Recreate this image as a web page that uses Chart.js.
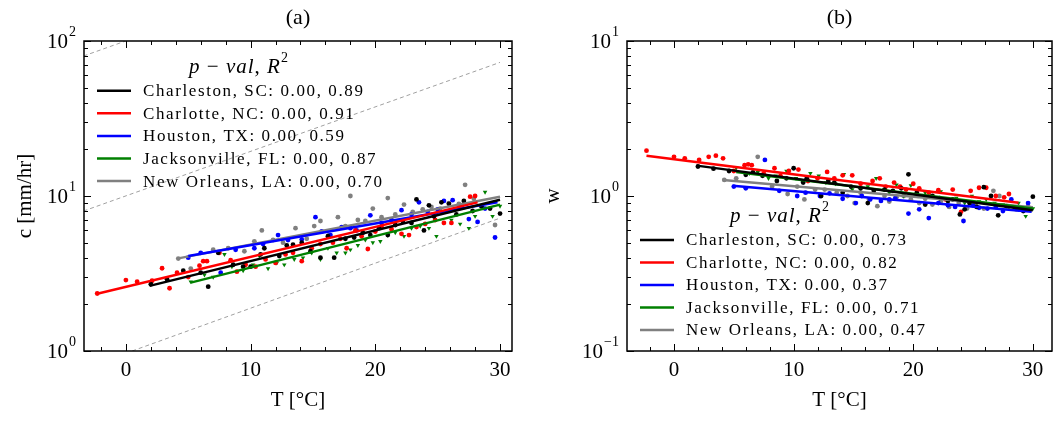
<!DOCTYPE html>
<html>
<head>
<meta charset="utf-8">
<script src="https://cdn.jsdelivr.net/npm/chart.js@4.4.0/dist/chart.umd.min.js"></script>
<style>
  html, body { margin: 0; padding: 0; background: #fff; }
  #wrap { position: relative; width: 1064px; height: 422px; }
  canvas { position: absolute; top: 0; }
</style>
</head>
<body>
<div id="wrap">
  <canvas id="chartA" width="532" height="422" style="left:0"></canvas>
  <canvas id="chartB" width="532" height="422" style="left:532px"></canvas>
</div>
<script>
// ---- data ----
const cities = ["Charleston, SC", "Charlotte, NC", "Houston, TX", "Jacksonville, FL", "New Orleans, LA"];
const statsA = ["0.00, 0.89", "0.00, 0.91", "0.00, 0.59", "0.00, 0.87", "0.00, 0.70"];
const statsB = ["0.00, 0.73", "0.00, 0.82", "0.00, 0.37", "0.00, 0.71", "0.00, 0.47"];

const tCharleston = [2.0, 3.3, 4.6, 6.0, 6.6, 7.4, 8.6, 9.4, 10.0, 10.8, 11.1, 12.3, 12.9, 13.4, 14.1, 14.8, 15.6, 16.2, 16.7, 17.6,
  18.3, 19.0, 19.6, 20.3, 21.0, 21.6, 22.2, 22.9, 23.3, 23.9, 24.3, 24.7, 25.3, 25.9, 26.5, 27.1, 27.8, 28.5, 29.2, 30.0];
const cCharleston = [2.7, 2.9, 3.3, 3.2, 2.6, 4.3, 3.6, 3.5, 3.5, 4.2, 4.6, 4.1, 4.8, 4.85, 5.0, 4.4, 4.0, 5.5, 4.0, 5.3,
  5.4, 5.8, 5.6, 6.2, 5.6, 6.5, 6.9, 6.7, 9.5, 6.0, 8.7, 7.4, 9.1, 8.9, 7.6, 9.3, 8.0, 8.6, 8.3, 7.7];
const wCharleston = [1.55, 1.5, 1.45, 1.37, 1.42, 1.35, 1.25, 1.3, 1.51, 1.22, 1.3, 1.0, 1.25, 1.22, 1.05, 1.15, 1.12, 0.9, 1.08, 1.1,
  1.08, 1.12, 1.38, 1.05, 0.88, 1.0, 0.97, 0.93, 0.95, 0.76, 0.82, 0.9, 0.85, 1.14, 1.0, 0.75, 0.86, 0.84, 0.8, 0.99];

const tCharlotte = [-2.3, 0.0, 0.9, 2.1, 2.9, 3.5, 4.1, 5.0, 5.9, 6.2, 6.5, 7.5, 8.4, 8.9, 9.6, 10.4, 11.2, 12.0, 12.8, 13.4,
  14.1, 14.9, 15.6, 16.6, 17.2, 17.7, 18.4, 18.9, 19.4, 20.0, 20.5, 21.3, 22.1, 22.7, 23.3, 24.0, 24.8, 25.5, 26.1, 26.9, 27.6, 28.0];
const cCharlotte = [2.35, 2.87, 2.8, 2.84, 3.42, 2.54, 3.2, 3.0, 3.55, 3.8, 3.8, 4.3, 3.85, 3.25, 3.6, 3.5, 3.9, 3.7, 4.2, 4.3,
  3.8, 4.6, 4.9, 5.0, 5.3, 4.6, 6.0, 5.5, 4.55, 5.9, 6.3, 6.1, 5.7, 5.6, 6.3, 6.6, 7.0, 6.7, 6.7, 8.5, 9.9, 10.0];
const wCharlotte = [1.96, 1.79, 1.75, 1.71, 1.79, 1.82, 1.75, 1.45, 1.58, 1.6, 1.58, 1.4, 1.51, 1.35, 1.45, 1.48, 1.25, 1.3, 1.43, 1.3,
  1.36, 1.36, 1.2, 1.25, 1.3, 1.15, 1.22, 1.15, 1.1, 1.2, 1.12, 1.05, 1.09, 0.95, 1.1, 0.79, 1.08, 1.13, 1.13, 1.0, 0.98, 1.03];

const tHouston = [5.0, 6.0, 7.6, 8.8, 10.3, 11.0, 12.2, 13.0, 14.1, 15.2, 15.7, 16.4, 17.3, 18.0, 18.5, 19.6, 20.5, 21.3, 22.1, 22.9,
  23.5, 24.2, 25.0, 25.5, 26.2, 26.9, 27.5, 28.2, 28.8, 29.6];
const cHouston = [4.0, 4.3, 3.2, 4.5, 4.6, 4.9, 5.6, 5.2, 5.25, 7.3, 5.9, 5.6, 6.3, 6.2, 6.0, 7.5, 6.7, 7.0, 8.1, 7.6,
  9.1, 7.9, 8.2, 9.3, 9.4, 8.6, 7.1, 6.8, 8.3, 5.4];
const wHouston = [1.15, 1.12, 1.71, 1.08, 1.0, 1.05, 1.0, 1.04, 0.96, 0.9, 1.0, 0.95, 0.93, 0.95, 0.97, 0.77, 0.82, 0.72, 0.9, 0.87,
  0.85, 0.69, 0.87, 0.84, 0.83, 0.85, 0.8, 0.95, 0.82, 0.9];

const tJacksonville = [5.2, 6.3, 7.0, 7.9, 8.5, 9.4, 10.2, 10.7, 11.4, 12.1, 12.7, 13.5, 14.2, 14.9, 15.6, 16.2, 16.9, 17.6, 18.0, 18.6,
  19.2, 19.8, 20.4, 21.0, 21.6, 22.3, 22.9, 23.6, 24.3, 24.9, 25.5, 26.1, 26.8, 27.5, 28.0, 28.8, 29.4, 30.0];
const cJacksonville = [2.8, 3.1, 3.0, 4.2, 3.5, 3.3, 3.6, 4.1, 3.4, 3.7, 3.6, 3.9, 4.0, 4.3, 3.9, 4.6, 4.3, 4.3, 4.5, 4.8,
  5.2, 5.0, 5.1, 5.6, 5.8, 5.5, 6.2, 6.4, 6.2, 5.5, 6.7, 7.0, 6.6, 6.2, 7.4, 10.6, 7.4, 8.6];
const wJacksonville = [1.52, 1.4, 1.42, 1.3, 1.35, 1.45, 1.3, 1.25, 1.4, 1.35, 1.22, 1.2, 1.38, 1.1, 1.2, 1.15, 1.3, 1.1, 1.05, 1.18,
  1.0, 1.17, 1.0, 1.05, 1.0, 1.07, 0.95, 0.97, 0.9, 1.0, 0.92, 0.95, 0.9, 0.88, 0.85, 0.9, 0.74, 0.83];

const tNewOrleans = [4.2, 5.2, 7.0, 8.2, 9.5, 10.3, 10.9, 11.8, 12.6, 13.6, 14.5, 15.1, 15.6, 16.3, 17.0, 17.6, 18.0, 18.6, 19.2, 19.8,
  20.5, 21.0, 21.6, 22.3, 23.0, 23.8, 24.5, 25.2, 25.9, 26.7, 27.2, 27.9, 28.6, 29.6];
const cNewOrleans = [3.95, 3.4, 4.5, 4.6, 4.4, 5.1, 6.0, 5.2, 5.0, 6.2, 5.3, 6.4, 6.9, 5.6, 7.3, 6.4, 10.0, 7.0, 6.9, 8.3,
  7.3, 9.7, 7.6, 8.8, 7.9, 8.2, 8.5, 8.3, 9.0, 8.9, 11.8, 9.6, 8.4, 6.5];
const wNewOrleans = [1.27, 1.3, 1.79, 1.15, 1.03, 1.15, 0.95, 1.1, 1.1, 1.05, 1.0, 0.9, 1.05, 0.95, 0.86, 1.0, 0.92, 0.98, 1.0, 0.95,
  0.9, 0.96, 0.88, 0.92, 0.85, 0.9, 0.83, 0.88, 0.83, 1.08, 1.0, 0.86, 0.82, 0.86];

// regression line end points (T range, value at each end)
const fitTA = [[1.9, 30], [-2.3, 28.2], [5.0, 29.8], [5.2, 30], [4.2, 30]];
const fitCA = [[2.63, 9.45], [2.34, 9.1], [4.1, 9.1], [2.76, 8.8], [3.96, 9.9]];
const fitTB = [[1.9, 30], [-2.3, 28.8], [4.9, 29.9], [5.2, 30], [4.1, 30]];
const fitWB = [[1.57, 0.81], [1.82, 0.905], [1.165, 0.79], [1.43, 0.83], [1.27, 0.845]];

// dashed reference lines in panel (a)
const refT = [[0.5, 30], [-3.4, 30], [-3.4, 30]];
const refC = [[1.0, 7.2], [8.0, 72.8], [80, 728]];

const tempsA = [tCharleston, tCharlotte, tHouston, tJacksonville, tNewOrleans];
const valuesA = [cCharleston, cCharlotte, cHouston, cJacksonville, cNewOrleans];
const valuesB = [wCharleston, wCharlotte, wHouston, wJacksonville, wNewOrleans];

const colors = ['#000000', '#ff0000', '#0000ff', '#008000', '#808080'];
const FONT = '"Liberation Serif", "Times New Roman", serif';

function pts(xs, ys) {
  return xs.map((x, i) => ({ x: x, y: ys[i] }));
}

function buildDatasets(values, fitT, fitV, withRef) {
  let ds = [];
  cities.forEach((c, i) => {
    ds.push({
      label: c,
      data: pts(tempsA[i], values[i]),
      backgroundColor: colors[i],
      borderWidth: 0,
      pointRadius: i === 3 ? 2.6 : 2.4,
      pointStyle: i === 3 ? 'triangle' : 'circle',
      rotation: i === 3 ? 180 : 0,
      order: 1
    });
  });
  cities.forEach((c, i) => {
    ds.push({
      label: c + ' fit',
      data: pts(fitT[i], fitV[i]),
      showLine: true,
      borderColor: colors[i],
      borderWidth: 2.5,
      pointRadius: 0,
      order: 0
    });
  });
  if (withRef) {
    refT.forEach((r, i) => {
      ds.push({
        data: pts(r, refC[i]),
        showLine: true,
        borderColor: '#a0a0a0',
        borderWidth: 1,
        borderDash: [4, 3],
        pointRadius: 0,
        order: 2
      });
    });
  }
  return ds;
}

function drawPow(ctx, exp, right, y) {
  ctx.textBaseline = 'middle';
  ctx.font = '14px ' + FONT;
  const we = ctx.measureText(exp).width;
  ctx.textAlign = 'left';
  ctx.fillText(exp, right - we, y - 9);
  ctx.font = '21px ' + FONT;
  ctx.textAlign = 'right';
  ctx.fillText('10', right - we - 1, y + 1);
}

function drawMathTitle(ctx, cx, cy) {
  const parts = [
    ['italic 21px ' + FONT, 'p', 0],
    ['21px ' + FONT, ' \u2212 ', 0],
    ['italic 21px ' + FONT, 'val', 0],
    ['21px ' + FONT, ', ', 0],
    ['italic 21px ' + FONT, 'R', 0],
    ['14px ' + FONT, '2', -9]
  ];
  ctx.letterSpacing = '1px';
  let total = 0;
  parts.forEach(p => { ctx.font = p[0]; total += ctx.measureText(p[1]).width; });
  let x = cx - total / 2;
  ctx.textAlign = 'left';
  ctx.textBaseline = 'middle';
  parts.forEach(p => {
    ctx.font = p[0];
    ctx.fillText(p[1], x, cy + p[2]);
    x += ctx.measureText(p[1]).width;
  });
  ctx.letterSpacing = '0px';
}

function decoPlugin(o) {
  return {
    id: 'deco',
    afterDraw(chart) {
      const ctx = chart.ctx;
      const a = chart.chartArea;
      const xs = chart.scales.x, ys = chart.scales.y;
      ctx.save();
      ctx.fillStyle = '#000';
      ctx.strokeStyle = '#000';
      ctx.lineWidth = 1;
      // x ticks, inward, bottom and top
      for (let v = -2; v <= 30; v += 2) {
        if (v < xs.min || v > xs.max) continue;
        const len = v % 10 === 0 ? 7 : 4;
        const px = Math.round(xs.getPixelForValue(v)) + 0.5;
        ctx.beginPath();
        ctx.moveTo(px, a.bottom); ctx.lineTo(px, a.bottom - len);
        ctx.moveTo(px, a.top); ctx.lineTo(px, a.top + len);
        ctx.stroke();
      }
      // y ticks, log decades + minors
      for (let d = o.decMin; d <= o.decMax; d++) {
        for (let k = 1; k <= 9; k++) {
          const v = k * Math.pow(10, d);
          if (v < ys.min * 0.999 || v > ys.max * 1.001) continue;
          const len = k === 1 ? 7 : 4;
          const py = Math.round(ys.getPixelForValue(v)) + 0.5;
          ctx.beginPath();
          ctx.moveTo(a.left, py); ctx.lineTo(a.left + len, py);
          ctx.moveTo(a.right, py); ctx.lineTo(a.right - len, py);
          ctx.stroke();
        }
      }
      // frame
      ctx.lineWidth = 1.5;
      ctx.strokeRect(a.left, a.top, a.right - a.left, a.bottom - a.top);
      // x tick labels
      ctx.font = '21px ' + FONT;
      ctx.textAlign = 'center';
      ctx.textBaseline = 'middle';
      [0, 10, 20, 30].forEach(v => {
        ctx.fillText(String(v), xs.getPixelForValue(v), a.bottom + 19);
      });
      // y tick labels
      for (let d = o.decMin; d <= o.decMax; d++) {
        const exp = d < 0 ? '\u2212' + (-d) : String(d);
        drawPow(ctx, exp, a.left - 8, ys.getPixelForValue(Math.pow(10, d)));
      }
      // axis titles
      const cx = (a.left + a.right) / 2;
      ctx.font = '21px ' + FONT;
      ctx.textAlign = 'center';
      ctx.fillText('T [\u00b0C]', cx, 400);
      ctx.save();
      ctx.translate(o.yTitleX, (a.top + a.bottom) / 2);
      ctx.rotate(-Math.PI / 2);
      ctx.fillText(o.yTitle, 0, 0);
      ctx.restore();
      // panel title
      ctx.font = '22px ' + FONT;
      ctx.fillText(o.title, cx, 18);
      // legend
      drawMathTitle(ctx, o.legTitleX, o.legTitleY);
      ctx.letterSpacing = '1.6px';
      cities.forEach((c, i) => {
        const y = o.legY0 + i * o.legStep;
        ctx.strokeStyle = colors[i];
        ctx.lineWidth = 2.5;
        ctx.beginPath();
        ctx.moveTo(o.legX0, y); ctx.lineTo(o.legX0 + 34, y);
        ctx.stroke();
        ctx.font = '17px ' + FONT;
        ctx.textAlign = 'left';
        ctx.fillText(c + ': ' + o.stats[i], o.legX0 + 46, y + 1);
      });
      ctx.letterSpacing = '0px';
      ctx.restore();
    }
  };
}

function makeChart(id, datasets, xr, yr, pad, o) {
  return new Chart(document.getElementById(id), {
    type: 'scatter',
    data: { datasets: datasets },
    options: {
      responsive: false,
      animation: false,
      devicePixelRatio: 1,
      layout: { padding: pad },
      scales: {
        x: { type: 'linear', min: xr[0], max: xr[1], display: false },
        y: { type: 'logarithmic', min: yr[0], max: yr[1], display: false }
      },
      plugins: { legend: { display: false }, tooltip: { enabled: false } }
    },
    plugins: [decoPlugin(o)]
  });
}

makeChart('chartA', buildDatasets(valuesA, fitTA, fitCA, true), [-3.36, 30.96], [1, 100],
  { left: 84, right: 20, top: 41, bottom: 71 },
  { title: '(a)', yTitle: 'c [mm/hr]', yTitleX: 25, decMin: 0, decMax: 2, stats: statsA,
    legTitleX: 239, legTitleY: 67, legY0: 90.7, legStep: 22.6, legX0: 97 });

makeChart('chartB', buildDatasets(valuesB, fitTB, fitWB, false), [-3.93, 31.6], [0.1, 10],
  { left: 95, right: 12, top: 41, bottom: 71 },
  { title: '(b)', yTitle: 'w', yTitleX: 21, decMin: -1, decMax: 1, stats: statsB,
    legTitleX: 248, legTitleY: 216, legY0: 240, legStep: 22.5, legX0: 108 });
</script>
</body>
</html>
